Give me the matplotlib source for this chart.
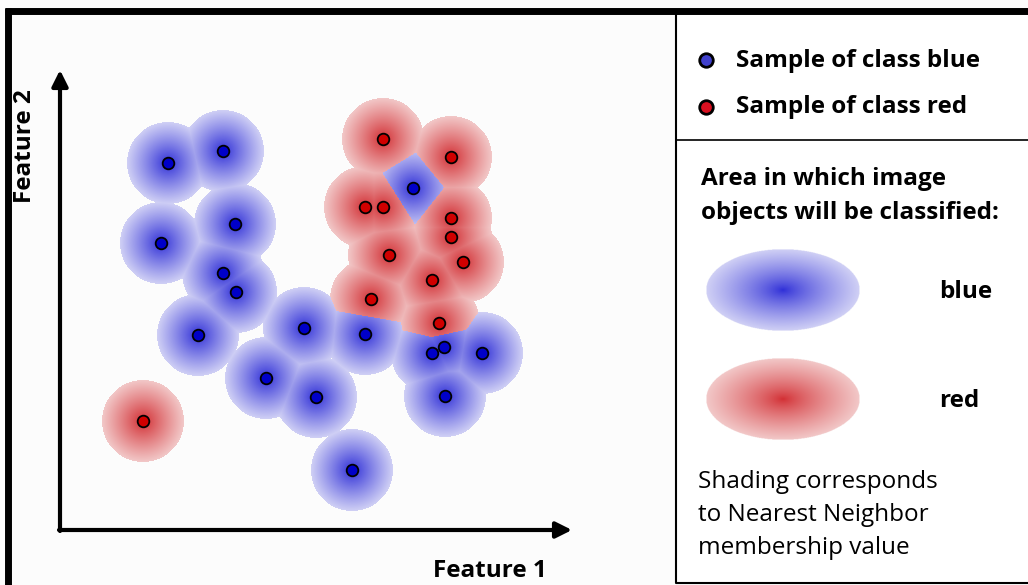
import numpy as np
import matplotlib
matplotlib.use("Agg")
import matplotlib.pyplot as plt

# ── Data: sample positions (pixel coords of the figure) ──────────────────────
blue_x = [168, 223, 235, 161, 223, 236, 198, 304, 365, 266, 316, 432, 444, 482, 445, 352, 413]
blue_y = [163, 151, 224, 243, 273, 292, 335, 328, 334, 378, 397, 353, 347, 353, 396, 470, 188]
red_x = [383, 451, 365, 383, 451, 451, 463, 389, 432, 371, 439, 143]
red_y = [139, 157, 207, 207, 218, 237, 262, 255, 280, 299, 323, 421]

legend_labels = ["Sample of class blue", "Sample of class red"]
area_title = ["Area in which image", "objects will be classified:"]
area_labels = ["blue", "red"]
note_lines = ["Shading corresponds", "to Nearest Neighbor", "membership value"]

W, H = 1028, 585
RADIUS = 41

BLUE_C = np.array([45, 45, 215]) / 255
BLUE_E = np.array([208, 208, 245]) / 255
RED_C = np.array([210, 45, 50]) / 255
RED_E = np.array([242, 200, 200]) / 255

plt.rcParams["font.family"] = ["Open Sans", "DejaVu Sans"]
FS = 17.5

fig = plt.figure(figsize=(W / 100, H / 100), dpi=100)
ax = fig.add_axes([0, 0, 1, 1])
ax.set_xlim(0, W)
ax.set_ylim(H, 0)
ax.axis("off")
fig.patch.set_facecolor("#fcfcfc")

# ── Nearest-neighbour shading ────────────────────────────────────────────────
px = np.array(blue_x + red_x, dtype=float)
py = np.array(blue_y + red_y, dtype=float)
is_red = np.array([0] * len(blue_x) + [1] * len(red_x))

yy, xx = np.mgrid[0:H, 0:W] + 0.5
d = np.sqrt((xx[..., None] - px) ** 2 + (yy[..., None] - py) ** 2)
nearest = d.argmin(axis=-1)
dmin = d.min(axis=-1)
t = np.clip(dmin / RADIUS, 0, 1) ** 0.9
cls = is_red[nearest]

rgba = np.zeros((H, W, 4))
for k, (c, e) in enumerate([(BLUE_C, BLUE_E), (RED_C, RED_E)]):
    m = cls == k
    rgba[m, :3] = c * (1 - t[m, None]) + e * t[m, None]
rgba[..., 3] = (dmin <= RADIUS).astype(float)
ax.imshow(rgba, extent=(0, W, H, 0), interpolation="bilinear", zorder=1)

ax.scatter(blue_x, blue_y, s=70, color="#0000c8", edgecolor="black", linewidth=1.3, zorder=3)
ax.scatter(red_x, red_y, s=70, color="#d00000", edgecolor="black", linewidth=1.3, zorder=3)

# ── Axes arrows ──────────────────────────────────────────────────────────────
arrow = dict(arrowstyle="-|>", lw=3.0, color="black", mutation_scale=24, shrinkA=0, shrinkB=0)
ax.annotate("", xy=(572, 530), xytext=(59, 530), arrowprops=arrow, zorder=4)
ax.annotate("", xy=(60, 70), xytext=(60, 531), arrowprops=arrow, zorder=4)
ax.text(490, 571, "Feature 1", fontsize=FS, fontweight="bold", ha="center", va="center")
ax.text(25, 146, "Feature 2", fontsize=FS, fontweight="bold", ha="center", va="center", rotation=90)

# ── Frame ────────────────────────────────────────────────────────────────────
ax.plot([5, W], [11, 11], color="black", lw=5, solid_capstyle="butt", zorder=5)
ax.plot([8, 8], [8, H], color="black", lw=5, solid_capstyle="butt", zorder=5)
ax.fill_between([676, W], 14, 583, color="white", zorder=2)
ax.plot([676, 676, W], [14, 583, 583], color="black", lw=1.5, zorder=5)
ax.plot([676, W], [140, 140], color="black", lw=1.2, zorder=5)

# ── Legend panel ─────────────────────────────────────────────────────────────
ax.scatter([706], [60], s=95, color="#4040cc", edgecolor="black", linewidth=2, zorder=6)
ax.scatter([706], [107], s=95, color="#d81020", edgecolor="black", linewidth=2, zorder=6)
for yv, lab in zip([61, 107], legend_labels):
    ax.text(736, yv, lab, fontsize=FS, fontweight="bold", ha="left", va="center", zorder=6)
for yv, lab in zip([179, 213], area_title):
    ax.text(701, yv, lab, fontsize=FS, fontweight="bold", ha="left", va="center", zorder=6)

ew, eh = 154, 82
gy, gx = np.mgrid[-1:1:200j, -1:1:300j]
r = np.sqrt(gx ** 2 + gy ** 2)
te = np.clip(r, 0, 1) ** 0.8
for (cy, c, e, lab) in [(290, BLUE_C, BLUE_E, area_labels[0]), (399, RED_C, RED_E, area_labels[1])]:
    img = np.zeros(r.shape + (4,))
    img[..., :3] = c * (1 - te[..., None]) + e * te[..., None]
    img[..., 3] = (r <= 1).astype(float)
    ax.imshow(img, extent=(783 - ew / 2, 783 + ew / 2, cy + eh / 2, cy - eh / 2), zorder=6)
    ax.text(939, cy + 2, lab, fontsize=FS, fontweight="bold", ha="left", va="center", zorder=6)

for yv, lab in zip([482, 515, 548], note_lines):
    ax.text(698, yv, lab, fontsize=FS, ha="left", va="center", zorder=6)

ax.set_xlim(0, W)
ax.set_ylim(H, 0)
fig.savefig("out.png", dpi=100, facecolor=fig.get_facecolor())
